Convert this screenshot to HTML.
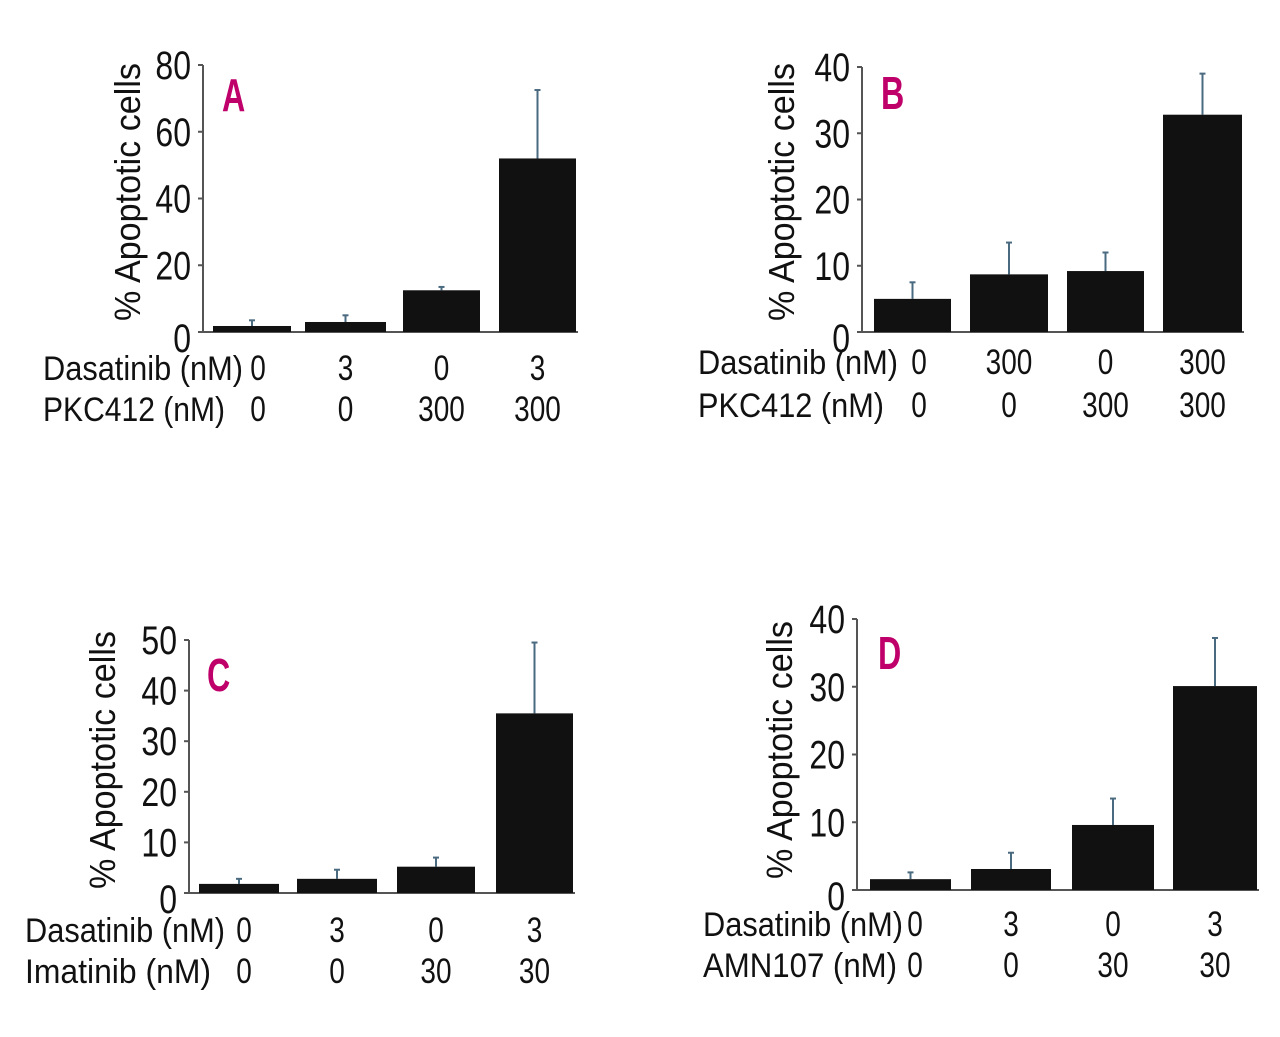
<!DOCTYPE html>
<html><head><meta charset="utf-8"><style>
html,body{margin:0;padding:0;background:#fff;}
svg{display:block;}
text{font-family:"Liberation Sans",sans-serif;fill:#111;}
</style></head><body>
<svg id="fig" width="1280" height="1037" viewBox="0 0 1280 1037" xmlns="http://www.w3.org/2000/svg"></svg>
<script>
// Panel A
const catsA = ["0/0","3/0","0/300","3/300"];
const valsA = [1.8, 3, 12.5, 52];
const errA = [3.5, 5, 13.5, 72.5];
const ticksA = [0,20,40,60,80];
const row1A = ["0","3","0","3"];
const row2A = ["0","0","300","300"];
// Panel B
const valsB = [5, 8.7, 9.2, 32.8];
const errB = [7.5, 13.5, 12, 39];
const ticksB = [0,10,20,30,40];
const row1B = ["0","300","0","300"];
const row2B = ["0","0","300","300"];
// Panel C
const valsC = [1.8, 2.8, 5.2, 35.5];
const errC = [2.8, 4.6, 7, 49.5];
const ticksC = [0,10,20,30,40,50];
const row1C = ["0","3","0","3"];
const row2C = ["0","0","30","30"];
// Panel D
const valsD = [1.6, 3.1, 9.6, 30.1];
const errD = [2.6, 5.5, 13.5, 37.2];
const ticksD = [0,10,20,30,40];
const row1D = ["0","3","0","3"];
const row2D = ["0","0","30","30"];

const NS="http://www.w3.org/2000/svg";
const svg=document.getElementById('fig');
function mk(tag,attrs,parent){const e=document.createElementNS(NS,tag);for(const k in attrs)e.setAttribute(k,attrs[k]);(parent||svg).appendChild(e);return e;}
function txt(x,y,size,anchor,sx,parent,extra){
  const a={x:0,y:0,'font-size':size,'text-anchor':anchor,transform:`translate(${x},${y}) scale(${sx},1)`};
  for(const k in (extra||{}))a[k]=extra[k];
  return mk('text',a,parent);
}
const SX=0.8;

const panels=[
 {id:'a',letter:'A',vals:valsA,err:errA,ticks:ticksA,r1:row1A,r2:row2A,l1:'Dasatinib (nM)',l2:'PKC412 (nM)',
  ax:203,y0:332,y1:65,bx:[213,305,403,499],bw:[78,81,77,77],titleX:128,titleY:192,letX:222,letY:111,lab1W:200,lab2W:182,labX:43,rb1:380,rb2:421},
 {id:'b',letter:'B',vals:valsB,err:errB,ticks:ticksB,r1:row1B,r2:row2B,l1:'Dasatinib (nM)',l2:'PKC412 (nM)',
  ax:862,y0:332,y1:67,bx:[874,970,1067,1163],bw:[77,78,77,79],titleX:782,titleY:192,letX:881,letY:109,lab1W:200,lab2W:186,labX:698,rb1:374,rb2:417},
 {id:'c',letter:'C',vals:valsC,err:errC,ticks:ticksC,r1:row1C,r2:row2C,l1:'Dasatinib (nM)',l2:'Imatinib (nM)',
  ax:189,y0:893,y1:640,bx:[199,297,397,496],bw:[80,80,78,77],titleX:103,titleY:760,letX:207,letY:691,lab1W:200,lab2W:186,labX:25,rb1:942,rb2:983},
 {id:'d',letter:'D',vals:valsD,err:errD,ticks:ticksD,r1:row1D,r2:row2D,l1:'Dasatinib (nM)',l2:'AMN107 (nM)',
  ax:857,y0:890,y1:619,bx:[870,971,1072,1173],bw:[81,80,82,84],titleX:780,titleY:750,letX:878,letY:669,lab1W:200,lab2W:194,labX:703,rb1:936,rb2:977}
];

panels.forEach(p=>{
  const g=mk('g',{});
  
  
  const max=p.ticks[p.ticks.length-1];
  const y=v=>p.y0-(v/max)*(p.y0-p.y1);
  const axis=mk('line',{x1:p.ax,y1:p.y1,x2:p.ax,y2:p.y0,stroke:'#555','stroke-width':2},g);
  
  
  const base=mk('line',{x1:p.ax,y1:p.y0,x2:p.bx[3]+p.bw[3]+2,y2:p.y0,stroke:'#555','stroke-width':2},g);
  
  
  p.ticks.forEach(t=>{
    mk('line',{x1:p.ax-5,y1:y(t),x2:p.ax,y2:y(t),stroke:'#555','stroke-width':2},g);
    const tl=txt(p.ax-12,y(t)+14+(t===0?6:0),40,'end',SX,g);
    tl.textContent=t;
    
    
  });
  p.vals.forEach((v,i)=>{
    const cx=p.bx[i]+p.bw[i]/2;
    const el=mk('line',{x1:cx,y1:y(p.err[i]),x2:cx,y2:y(v),stroke:'#4a6a80','stroke-width':2},g);
    
    
    mk('line',{x1:cx-3,y1:y(p.err[i]),x2:cx+3,y2:y(p.err[i]),stroke:'#4a6a80','stroke-width':2},g);
    const r=mk('rect',{x:p.bx[i],y:y(v),width:p.bw[i],height:p.y0-y(v),fill:'#111'},g);
    
    
    const lx=i===0?p.bx[0]+45:cx;
    const t1=txt(lx,p.rb1,35,'middle',SX,g);
    t1.textContent=p.r1[i];
    
    
    const t2=txt(lx,p.rb2,35,'middle',SX,g);
    t2.textContent=p.r2[i];
    
    
  });
  const L1=mk('text',{x:p.labX,y:p.rb1,'font-size':34,textLength:p.lab1W,lengthAdjust:'spacingAndGlyphs'},g);
  L1.textContent=p.l1;
  
  
  const L2=mk('text',{x:p.labX,y:p.rb2,'font-size':34,textLength:p.lab2W,lengthAdjust:'spacingAndGlyphs'},g);
  L2.textContent=p.l2;
  
  
  const tt=mk('text',{x:0,y:0,'font-size':36,'text-anchor':'middle',transform:`translate(${p.titleX+12},${p.titleY}) rotate(-90)`,textLength:258,lengthAdjust:'spacingAndGlyphs'},g);
  tt.textContent='% Apoptotic cells';
  
  
  const lt=txt(p.letX,p.letY,46,'start',0.7,g,{'font-weight':'bold',fill:'#c0006a',style:'fill:#c0006a'});
  lt.textContent=p.letter;
  
  
});
</script>
</body></html>
